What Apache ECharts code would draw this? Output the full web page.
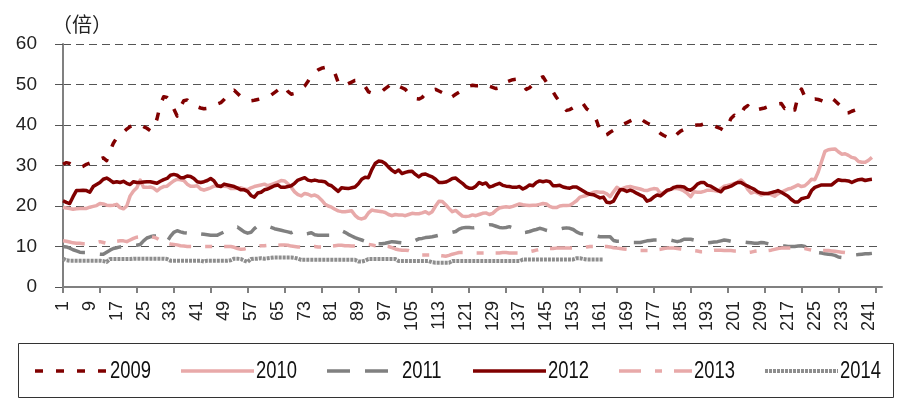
<!DOCTYPE html>
<html>
<head>
<meta charset="utf-8">
<script src="https://cdn.jsdelivr.net/npm/echarts@6/dist/echarts.min.js"></script>
<style>
html,body{margin:0;padding:0;background:#fff;}
#c{width:909px;height:410px;}
</style>
</head>
<body>
<div id="c"></div>
<script>
// ---- data ----
var categoryCount = 245;
var categories = [];
for (var i = 1; i <= categoryCount; i++) categories.push(String(i));

var seriesNames = ['2009', '2010', '2011', '2012', '2013', '2014'];
var yTicks = [0, 10, 20, 30, 40, 50, 60];
var unitLabel = '（倍）';

var s2009 = [
30.3,30.7,30.5,30.0,29.6,29.5,29.8,30.3,30.6,31.0,
31.3,31.6,31.9,31.2,33.5,35.5,36.8,37.6,38.2,39.0,
39.6,40.0,40.3,40.1,39.6,39.2,38.6,39.0,41.5,45.0,
47.0,46.8,46.0,44.0,42.2,44.5,46.0,46.2,45.3,44.8,
44.5,44.2,44.0,44.1,44.4,44.8,45.2,45.5,46.3,47.3,
48.2,48.6,47.8,47.0,46.4,46.2,46.0,46.1,46.3,46.5,
46.6,46.9,47.4,48.0,48.6,49.3,49.6,48.3,47.6,47.8,
48.2,49.0,49.6,50.8,52.2,53.0,53.6,54.0,54.2,54.1,
53.8,52.8,50.5,49.6,49.8,50.2,50.6,51.0,51.0,50.6,
49.5,48.2,47.9,47.9,47.9,48.3,49.0,49.6,50.4,50.0,
49.6,49.2,48.8,47.8,47.0,46.5,46.4,46.8,47.7,48.3,
48.6,48.8,48.4,48.0,47.0,46.6,47.0,47.6,48.1,48.8,
49.3,49.6,49.8,49.7,49.7,50.2,50.0,49.6,49.3,49.0,
49.2,50.2,50.6,50.9,51.2,51.3,50.8,50.0,48.8,49.2,
50.0,50.8,51.5,51.9,50.6,49.5,48.2,46.8,45.8,45.0,
43.6,43.8,44.3,44.7,45.6,45.2,44.0,43.4,42.9,41.0,
38.6,37.3,37.6,38.2,38.7,39.3,39.8,40.2,40.6,41.0,
41.4,41.9,41.6,41.0,40.5,40.1,39.5,38.6,37.9,37.4,
37.0,36.4,37.0,37.8,38.5,38.9,39.3,39.6,39.9,40.0,
40.0,40.3,40.4,40.2,39.8,39.4,39.1,38.6,39.8,41.6,
42.4,41.8,42.8,44.2,44.8,43.6,43.4,43.8,44.0,44.2,
44.5,44.8,45.0,45.2,45.3,44.1,44.6,44.9,43.7,47.2,
48.9,47.0,46.3,46.3,46.4,46.3,46.0,45.6,45.8,46.6,
46.0,45.2,44.5,42.9,43.0,43.4,43.7,44.0,44.1
];

var s2010 = [
19.7,19.5,19.4,19.2,19.3,19.4,19.4,19.4,19.7,19.9,
20.1,20.6,20.5,20.2,20.1,20.2,20.4,19.6,19.3,20.0,
22.5,23.7,24.5,26.4,24.6,24.6,24.7,24.4,23.7,24.4,
24.8,24.9,25.6,26.2,26.6,26.5,26.3,25.4,24.9,24.9,
25.0,24.2,23.9,24.2,24.5,24.9,25.0,25.0,24.9,24.8,
24.3,24.3,24.4,24.5,24.2,24.0,24.5,24.8,25.0,25.2,
25.4,25.0,25.3,25.6,25.9,26.3,26.2,25.5,24.6,23.5,
22.8,22.5,23.1,22.9,22.5,22.7,22.3,21.5,20.5,20.0,
19.7,19.2,18.8,18.6,18.6,18.7,18.8,17.7,17.0,16.8,
17.1,18.3,19.0,18.8,18.7,18.6,18.4,17.9,17.6,17.9,
17.8,17.8,17.6,17.9,18.2,18.1,18.1,18.3,18.6,18.1,
18.6,20.0,21.2,21.1,20.3,19.4,18.6,18.9,18.2,17.5,
17.4,17.5,17.8,17.6,17.9,18.2,18.3,17.9,18.2,18.9,
19.5,19.7,19.8,19.7,19.9,20.2,20.5,20.3,20.2,20.1,
20.2,20.2,20.4,20.6,20.5,19.9,19.6,19.6,20.0,20.1,
20.1,20.2,20.7,21.3,22.2,22.4,22.6,23.0,23.4,23.5,
23.4,23.4,23.0,22.3,23.5,24.6,24.1,24.4,24.7,24.8,
24.6,24.4,24.2,23.9,23.8,24.1,24.3,24.2,23.0,23.4,
23.7,24.1,24.3,24.3,24.1,23.7,23.1,22.3,23.5,23.4,
23.4,23.6,23.9,23.9,23.8,23.6,24.3,24.9,25.1,25.3,
25.6,25.9,26.4,25.6,24.1,23.2,23.5,23.2,22.7,23.0,
23.0,22.8,22.4,23.0,23.4,23.8,24.2,24.4,24.8,25.2,
24.8,25.0,25.7,26.6,26.5,28.4,31.0,33.5,33.9,34.0,
34.1,33.4,32.8,32.9,32.5,32.0,31.8,31.0,30.8,30.8,
31.3,32.0
];

var s2011 = [
10.0,9.9,9.6,9.2,8.9,8.6,8.5,8.5,8.4,8.3,
8.2,8.1,8.1,8.6,9.1,9.5,9.7,9.9,10.0,10.1,
10.2,10.3,10.3,10.5,11.4,12.1,12.4,12.6,12.6,12.4,
11.7,11.2,12.5,13.5,13.9,13.6,13.4,13.3,13.6,13.7,
13.4,13.1,13.0,12.9,12.8,12.8,12.8,13.2,13.6,14.1,
14.4,14.7,14.8,14.2,13.6,13.3,13.5,14.4,15.1,15.3,
15.2,15.0,14.7,14.4,14.2,14.0,13.8,13.6,13.4,13.8,
13.7,13.4,13.1,13.2,13.4,12.9,12.8,12.8,12.8,12.8,
12.8,13.1,13.6,13.9,13.5,13.0,12.6,12.2,11.9,11.6,
11.3,11.1,11.0,10.8,10.7,10.7,10.8,11.0,11.2,11.1,
11.0,10.9,10.8,10.7,11.0,11.5,11.9,12.0,12.2,12.3,
12.4,12.6,12.8,13.0,13.2,13.4,13.5,13.7,14.3,14.6,
14.7,14.7,14.6,14.7,14.9,15.1,15.3,15.4,15.3,15.0,
14.7,14.6,14.7,14.9,14.6,14.1,13.7,13.4,13.5,13.7,
14.0,14.2,14.5,14.3,14.0,13.8,13.9,14.1,14.3,14.5,
14.6,14.5,14.2,13.6,13.2,13.1,13.3,13.1,12.8,12.6,
12.4,12.4,12.4,12.4,11.5,11.3,11.3,11.2,11.1,11.0,
11.0,11.0,11.0,11.2,11.4,11.5,11.6,11.6,11.6,11.8,
11.8,11.6,11.4,11.2,11.4,11.8,11.8,11.8,11.6,11.4,
11.1,10.8,10.9,11.0,11.1,11.2,11.4,11.6,11.5,11.3,
11.2,11.2,11.2,11.1,11.0,10.9,10.8,10.8,11.0,10.9,
10.7,10.5,10.3,10.2,10.1,10.1,10.0,10.0,10.0,10.1,
10.2,10.0,9.4,8.7,8.5,8.5,8.4,8.2,8.1,8.0,
7.8,7.4,7.3,7.5,7.6,7.7,7.9,8.0,8.1,8.2,
8.2,8.3
];

var s2012 = [
21.3,20.9,20.6,22.3,23.8,23.8,23.9,23.8,23.4,24.8,
25.3,25.8,26.6,26.9,26.4,25.8,26.0,25.8,26.1,25.6,
25.3,26.0,25.8,25.8,25.9,26.0,26.0,25.8,25.6,26.1,
26.5,26.8,27.6,27.8,27.6,27.0,27.0,27.4,27.3,26.8,
26.0,25.8,26.0,26.3,26.8,26.2,25.0,24.8,25.4,25.2,
25.0,24.8,24.4,24.0,24.0,23.6,22.6,22.2,23.2,23.4,
24.0,24.2,24.6,25.0,25.2,24.6,24.6,24.8,25.0,25.6,
26.4,26.7,27.0,26.4,26.2,26.4,26.2,26.1,26.0,25.3,
25.0,24.3,23.6,24.5,24.4,24.3,24.5,24.7,25.5,26.6,
27.1,27.0,29.0,30.5,31.1,31.0,30.5,29.6,28.8,28.3,
28.9,28.0,28.3,28.5,28.6,27.8,27.2,27.8,27.9,27.5,
27.2,26.6,25.8,25.8,25.9,26.3,26.8,26.9,26.2,25.6,
24.8,24.4,24.4,24.9,25.8,25.4,25.7,24.7,24.9,25.3,
25.6,25.1,24.9,24.8,24.6,24.6,24.8,24.2,24.6,25.2,
25.0,25.8,26.2,26.0,26.2,26.0,25.0,25.0,25.1,24.7,
24.5,24.4,24.7,24.7,24.2,23.7,23.2,22.9,22.8,22.4,
22.0,22.2,20.9,20.8,21.2,22.7,24.0,24.0,23.6,23.9,
23.6,23.1,22.7,22.3,21.2,21.5,22.2,22.7,22.5,23.2,
23.9,24.1,24.6,24.8,24.8,24.7,24.1,23.9,24.5,25.4,
25.8,25.8,25.1,24.9,24.4,23.9,23.5,24.4,24.6,24.9,
25.4,25.8,25.8,25.3,24.9,24.5,24.1,23.5,23.2,23.1,
23.1,23.3,23.5,23.8,23.4,22.9,22.4,21.6,21.0,21.0,
21.8,22.0,22.2,23.8,24.6,24.9,25.2,25.2,25.2,25.2,
25.9,26.5,26.3,26.3,26.2,25.8,26.2,26.5,26.6,26.3,
26.5,26.6
];

var s2013 = [
11.4,11.3,11.1,10.9,10.8,10.8,10.7,10.7,10.8,10.9,
11.0,11.2,11.0,10.8,11.0,11.2,11.3,11.4,11.4,11.2,
11.6,12.0,12.3,12.4,12.4,12.4,12.4,12.3,12.0,11.5,
10.9,10.8,10.6,10.5,10.4,10.2,10.1,10.0,10.0,10.0,
10.0,10.0,10.0,10.0,10.0,10.0,10.0,10.0,10.0,10.0,
10.0,9.8,9.5,9.3,9.4,9.6,9.7,9.9,10.0,10.2,
10.2,10.3,10.3,10.3,10.3,10.4,10.4,10.3,10.1,10.0,
9.9,9.9,9.9,9.8,9.9,10.0,9.9,9.9,9.9,10.0,
10.1,10.2,10.3,10.3,10.2,10.2,10.1,10.1,10.2,10.4,
10.5,10.5,10.4,10.2,10.1,10.1,10.1,10.0,9.7,9.4,
9.2,9.1,9.1,9.0,8.7,8.3,8.0,7.9,7.9,7.9,
7.9,7.8,7.8,7.7,7.6,7.8,8.1,8.3,8.5,8.5,
8.5,8.4,8.4,8.4,8.4,8.4,8.4,8.4,8.4,8.4,
8.4,8.5,8.5,8.4,8.4,8.4,8.4,8.4,8.5,8.7,
8.9,9.1,9.3,9.5,9.6,9.5,9.5,9.6,9.6,9.6,
9.6,9.6,9.6,9.6,9.6,9.7,9.9,10.0,10.0,10.0,
10.0,10.0,10.0,9.9,9.7,9.6,9.5,9.4,9.3,9.2,
9.1,9.0,9.0,9.0,9.0,9.0,9.1,9.2,9.3,9.5,
9.6,9.6,9.6,9.5,9.4,9.3,9.2,9.1,9.0,8.9,
8.7,8.7,8.9,9.0,9.1,9.1,9.1,9.0,9.0,9.0,
8.9,8.9,8.8,8.6,8.5,8.6,8.8,8.9,9.0,9.0,
9.0,9.1,9.3,9.5,9.6,9.6,9.6,9.6,9.6,9.6,
9.6,9.5,9.3,9.1,9.0,9.0,9.0,9.0,9.0,8.9,
8.8,8.7,8.6,8.5,8.5,8.5,8.5
];

var s2014 = [
7.0,6.6,6.5,6.5,6.5,6.5,6.5,6.5,6.5,6.5,
6.5,6.5,6.4,6.2,6.9,6.9,6.9,6.9,6.9,6.9,
6.9,7.0,7.0,7.0,7.0,7.0,7.0,7.0,7.0,7.0,
7.0,6.9,6.5,6.5,6.5,6.5,6.5,6.5,6.5,6.5,
6.5,6.5,6.3,6.5,6.5,6.5,6.5,6.5,6.5,6.5,
6.6,7.0,7.0,6.9,6.5,6.2,6.9,7.0,7.0,7.1,
7.0,7.1,7.2,7.3,7.3,7.3,7.3,7.3,7.3,7.2,
7.0,6.7,6.7,6.7,6.7,6.7,6.7,6.7,6.7,6.7,
6.7,6.7,6.7,6.7,6.7,6.7,6.7,6.7,6.3,6.3,
6.5,6.9,6.9,6.9,6.9,6.9,6.9,6.9,6.9,6.9,
6.4,6.4,6.4,6.4,6.4,6.4,6.4,6.4,6.4,6.4,
6.1,6.0,6.0,6.0,6.0,6.0,6.4,6.4,6.4,6.4,
6.4,6.4,6.4,6.4,6.4,6.4,6.4,6.4,6.4,6.4,
6.4,6.4,6.4,6.4,6.4,6.4,6.4,6.8,6.8,6.8,
6.8,6.8,6.8,6.8,6.8,6.8,6.8,6.8,6.8,6.8,
6.8,6.8,6.8,7.1,7.1,6.9,6.8,6.8,6.8,6.8,
6.8,6.8
];

// ---- chart ----
var DARK = '#800000', PINK = '#E8A9A9', GRAY = '#808080', LGRAY = '#8E8E8E';
var numFont = "'Liberation Sans', Arial, sans-serif";

var seriesData = [s2009, s2010, s2011, s2012, s2013, s2014];
var styles = [
  { color: DARK,  width: 3.5, dash: [8, 13] },
  { color: PINK,  width: 3.5, dash: null },
  { color: GRAY,  width: 3.5, dash: [23, 15] },
  { color: DARK,  width: 3.5, dash: null },
  { color: PINK,  width: 3.5, dash: [22, 14, 7, 12] },
  { color: LGRAY, width: 4,   dash: [3, 1] }
];

var series = seriesNames.map(function (n, k) {
  var st = styles[k];
  return {
    name: n, type: 'line', data: seriesData[k], symbol: 'none', showSymbol: false,
    animation: false,
    lineStyle: { color: st.color, width: st.width, type: st.dash || 'solid', cap: 'butt', join: 'round' },
    emphasis: { disabled: true }
  };
});

// hand-drawn legend (box + line samples + labels)
var legendGraphics = [
  { type: 'rect', shape: { x: 18.5, y: 343.5, width: 875, height: 54 },
    style: { fill: 'none', stroke: '#333', lineWidth: 1 }, silent: true }
];
var legendX = [35, 181, 327, 473, 619, 765];
var legendY = 371;
seriesNames.forEach(function (n, k) {
  var st = styles[k];
  var x0 = legendX[k];
  var ls = { stroke: st.color, lineWidth: st.width, lineCap: 'butt' };
  if (st.dash) ls.lineDash = st.dash;
  legendGraphics.push({ type: 'line', silent: true,
    shape: { x1: x0, y1: legendY, x2: x0 + 73, y2: legendY }, style: ls });
  legendGraphics.push({ type: 'text', silent: true, x: x0 + 75, y: legendY + 1, scaleX: 0.8,
    style: { text: n, font: "23px 'Liberation Sans', Arial, sans-serif", fill: '#111',
             verticalAlign: 'middle', align: 'left' } });
});
legendGraphics.push({ type: 'text', silent: true, x: 52, y: 14,
  style: { text: unitLabel, font: "20px 'Noto Sans CJK SC', sans-serif", fill: '#222' } });

var chart = echarts.init(document.getElementById('c'), null, { renderer: 'canvas' });
chart.setOption({
  animation: false,
  backgroundColor: '#fff',
  grid: { left: 63, right: 27, top: 44, bottom: 123, containLabel: false },
  graphic: legendGraphics,
  xAxis: {
    type: 'category', data: categories, boundaryGap: false,
    axisLine: { lineStyle: { color: GRAY, width: 2 } },
    axisTick: { show: true, interval: 10, length: 6, lineStyle: { color: GRAY, width: 2 } },
    axisLabel: { interval: 7, rotate: 90, margin: 14, fontSize: 18, color: '#222', fontFamily: numFont },
    splitLine: { show: false }
  },
  yAxis: {
    type: 'value', min: yTicks[0], max: yTicks[yTicks.length - 1], interval: 10,
    axisLine: { show: true, lineStyle: { color: GRAY, width: 2 } },
    axisTick: { show: true, length: 8, lineStyle: { color: '#555', width: 1 } },
    axisLabel: { margin: 26, fontSize: 19, color: '#222', fontFamily: numFont },
    splitLine: { show: true, lineStyle: { color: '#555', width: 1, type: [8, 5] } }
  },
  series: series
});
</script>
</body>
</html>
